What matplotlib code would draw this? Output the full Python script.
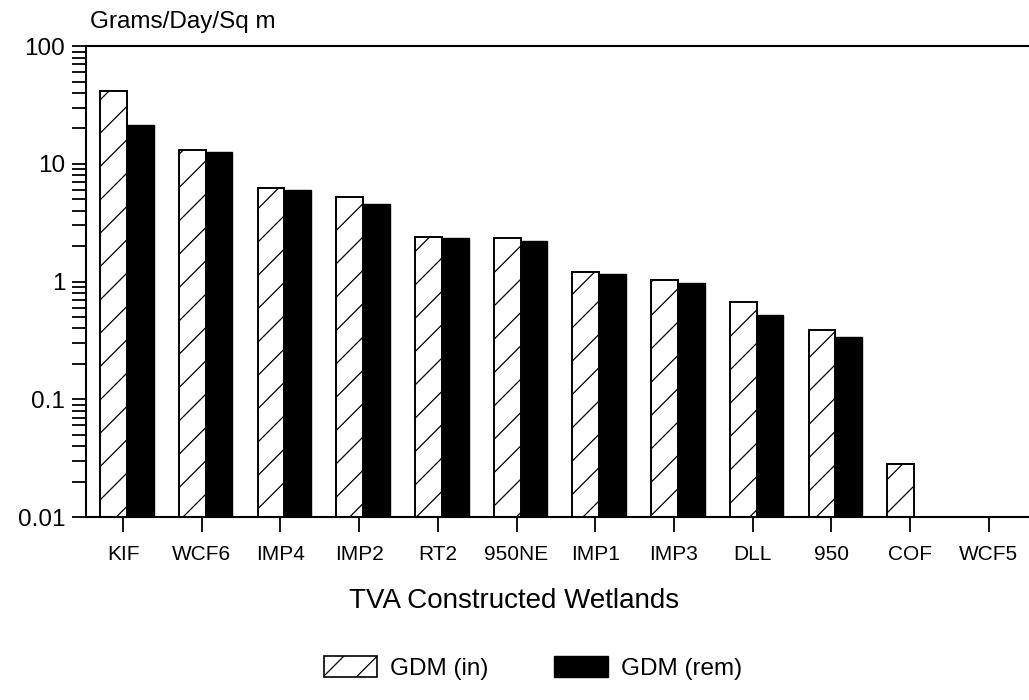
import numpy as np
import matplotlib
matplotlib.use('Agg')
import matplotlib.pyplot as plt
from matplotlib.patches import Patch

plt.rcParams['font.family'] = ['Liberation Sans', 'DejaVu Sans']
plt.rcParams['hatch.linewidth'] = 0.9

# Data (log scale, missing = below 0.01)
sites = ['KIF', 'WCF6', 'IMP4', 'IMP2', 'RT2', '950NE', 'IMP1', 'IMP3', 'DLL', '950', 'COF', 'WCF5']
gdm_in = [42, 13.1, 6.2, 5.2, 2.39, 2.35, 1.2, 1.03, 0.67, 0.39, 0.027, np.nan]
gdm_rem = [21.5, 12.6, 6.0, 4.6, 2.35, 2.2, 1.17, 0.98, 0.52, 0.34, np.nan, np.nan]

fig = plt.figure(figsize=(10.29, 7.0), dpi=100)
ax = fig.add_axes([0.0836, 0.2614, 0.9164, 0.6726])

x = np.arange(len(sites))
w = 0.34
ax.bar(x - 0.12, gdm_in, w, bottom=0.001, facecolor='white', edgecolor='black',
       hatch='/', linewidth=1.4, label='GDM (in)')
ax.bar(x - 0.12 + w, gdm_rem, w, bottom=0.001, facecolor='black', edgecolor='black',
       linewidth=1.0, label='GDM (rem)')

ax.set_yscale('log')
ax.set_ylim(0.01, 100)
ax.set_xlim(-0.47, 11.51)
ax.set_yticks([0.01, 0.1, 1, 10, 100])
ax.set_yticklabels(['0.01', '0.1', '1', '10', '100'])
ax.set_xticks(x)
ax.set_xticklabels(sites)
ax.tick_params(axis='y', which='both', direction='out', length=10, width=1.3, labelsize=17.5, pad=5)
ax.tick_params(axis='y', which='minor', labelleft=False)
ax.tick_params(axis='x', direction='out', length=11, width=1.3, labelsize=15, pad=9)
ax.spines['right'].set_visible(False)
for s in ['left', 'bottom', 'top']:
    ax.spines[s].set_linewidth(1.5)

fig.text(0.087, 0.968, 'Grams/Day/Sq m', fontsize=17.5, va='center', ha='left')
fig.text(0.50, 0.141, 'TVA Constructed Wetlands', fontsize=20, va='center', ha='center')

handles = [Patch(facecolor='white', edgecolor='black', hatch='/', linewidth=1.2, label='GDM (in)'),
           Patch(facecolor='black', edgecolor='black', label='GDM (rem)')]
fig.legend(handles=handles, loc='center', bbox_to_anchor=(0.518, 0.046), ncol=2,
           frameon=False, fontsize=17.5, handlelength=2.2, handleheight=0.95,
           columnspacing=2.7, handletextpad=0.55)

fig.savefig('out.png', dpi=100)
